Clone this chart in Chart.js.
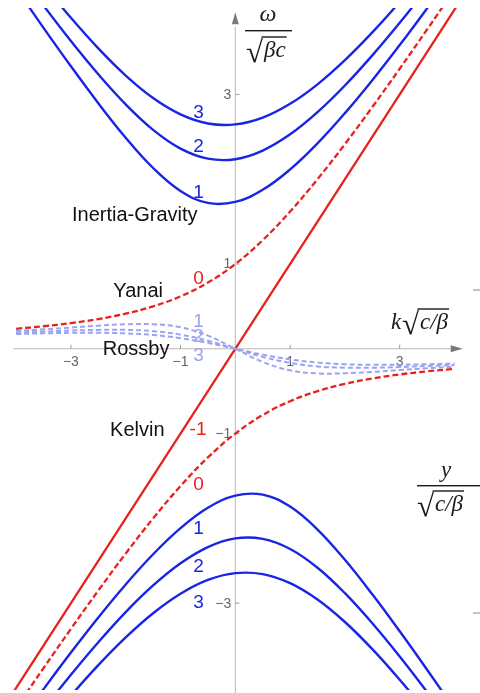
<!DOCTYPE html>
<html>
<head>
<meta charset="utf-8">
<script src="https://cdn.jsdelivr.net/npm/chart.js@4.4.1/dist/chart.umd.min.js"></script>
<style>
  html, body { margin: 0; padding: 0; background: #fff; }
  #waveChart { display: block; }
</style>
</head>
<body>
<canvas id="waveChart" width="480" height="693"></canvas>
<script>
// wavenumber k*sqrt(c/beta), shared by every branch
const kValues = [-4, -3.5, -3, -2.5, -2, -1.5, -1, -0.5, 0, 0.5, 1, 1.5, 2, 2.5, 3, 3.5, 4];

// inertia-gravity waves, positive frequency, n = 1..3
const gravityUp1 = [4.250, 3.785, 3.332, 2.896, 2.489, 2.132, 1.861, 1.720, 1.732, 1.875, 2.115, 2.423, 2.779, 3.168, 3.582, 4.015, 4.460];
const gravityUp2 = [4.484, 4.048, 3.629, 3.237, 2.882, 2.582, 2.361, 2.242, 2.236, 2.338, 2.529, 2.791, 3.105, 3.460, 3.844, 4.251, 4.675];
const gravityUp3 = [4.706, 4.294, 3.903, 3.542, 3.222, 2.957, 2.764, 2.657, 2.646, 2.726, 2.889, 3.119, 3.404, 3.731, 4.091, 4.476, 4.880];

// inertia-gravity waves, negative frequency, n = 1..3
const gravityDown1 = [-4.460, -4.015, -3.582, -3.168, -2.779, -2.423, -2.115, -1.875, -1.732, -1.720, -1.861, -2.132, -2.489, -2.896, -3.332, -3.785, -4.250];
const gravityDown2 = [-4.675, -4.251, -3.844, -3.460, -3.105, -2.791, -2.529, -2.338, -2.236, -2.242, -2.361, -2.582, -2.882, -3.237, -3.629, -4.048, -4.484];
const gravityDown3 = [-4.880, -4.476, -4.091, -3.731, -3.404, -3.119, -2.889, -2.726, -2.646, -2.657, -2.764, -2.957, -3.222, -3.542, -3.903, -4.294, -4.706];

// Rossby waves, n = 1..3
const rossby1 = [0.211, 0.230, 0.251, 0.272, 0.289, 0.290, 0.254, 0.155, 0, -0.155, -0.254, -0.290, -0.289, -0.272, -0.251, -0.230, -0.211];
const rossby2 = [0.191, 0.203, 0.215, 0.223, 0.223, 0.208, 0.167, 0.095, 0, -0.095, -0.167, -0.208, -0.223, -0.223, -0.215, -0.203, -0.191];
const rossby3 = [0.174, 0.182, 0.188, 0.189, 0.182, 0.163, 0.125, 0.069, 0, -0.069, -0.125, -0.163, -0.182, -0.189, -0.188, -0.182, -0.174];

// Yanai (mixed Rossby-gravity) wave, both roots
const yanaiUp = [0.236, 0.266, 0.303, 0.351, 0.414, 0.500, 0.618, 0.781, 1.000, 1.281, 1.618, 2.000, 2.414, 2.851, 3.303, 3.766, 4.236];
const yanaiDown = [-4.236, -3.766, -3.303, -2.851, -2.414, -2.000, -1.618, -1.281, -1.000, -0.781, -0.618, -0.500, -0.414, -0.351, -0.303, -0.266, -0.236];

// Kelvin wave: omega = k
const kelvinK = [-4.1, 4.1];
const kelvinOmega = [-4.1, 4.1];

const xTicks = [-3, -1, 1, 3];
const yTicks = [3, 1, -1, -3];

const BLUE = '#1a24e4';
const RED = '#e8211d';
const PALE = '#9ba3f1';
const INK = '#111';

function series(xs, ys) {
    return xs.map(function (x, i) { return { x: x, y: ys[i] }; });
}

function curve(ys, color, width, dash) {
    return {
        data: series(kValues, ys),
        borderColor: color,
        borderWidth: width,
        borderDash: dash || [],
        pointRadius: 0,
        tension: 0.4,
        fill: false
    };
}

// text placed in data coordinates
const waveLabels = [
    { text: '3', k: -0.67, w: 2.78, color: BLUE },
    { text: '2', k: -0.67, w: 2.38, color: BLUE },
    { text: '1', k: -0.67, w: 1.84, color: BLUE },
    { text: '0', k: -0.67, w: 0.82, color: RED },
    { text: '1', k: -0.67, w: 0.32, color: PALE },
    { text: '2', k: -0.67, w: 0.14, color: PALE },
    { text: '3', k: -0.67, w: -0.085, color: PALE },
    { text: '-1', k: -0.68, w: -0.96, color: RED },
    { text: '0', k: -0.67, w: -1.60, color: RED },
    { text: '1', k: -0.67, w: -2.125, color: BLUE },
    { text: '2', k: -0.67, w: -2.57, color: BLUE },
    { text: '3', k: -0.67, w: -3.0, color: BLUE }
];

const waveNames = [
    { text: 'Inertia-Gravity', k: -2.98, w: 1.507 },
    { text: 'Yanai', k: -2.226, w: 0.611 },
    { text: 'Rossby', k: -2.42, w: -0.077 },
    { text: 'Kelvin', k: -2.286, w: -1.028 }
];

// draws "√body" with the vinculum over the body
function drawRoot(ctx, x, baseline, body, size) {
    ctx.font = (size + 8) + 'px "Liberation Serif"';
    ctx.textAlign = 'left';
    ctx.textBaseline = 'alphabetic';
    ctx.fillText('\u221A', x, baseline + 5);
    const rootW = ctx.measureText('\u221A').width;
    ctx.font = 'italic ' + size + 'px "Liberation Serif"';
    const bodyW = ctx.measureText(body).width;
    ctx.fillText(body, x + rootW + 1, baseline);
    ctx.fillRect(x + rootW - 1.5, baseline - size * 0.9, bodyW + 3.5, 1.4);
}

const axesPlugin = {
    id: 'waveAxes',
    beforeDatasetsDraw: function (chart) {
        const ctx = chart.ctx;
        const xs = chart.scales.x;
        const ys = chart.scales.y;
        const x0 = xs.getPixelForValue(0);
        const y0 = ys.getPixelForValue(0);
        ctx.save();

        ctx.strokeStyle = '#b8b8b8';
        ctx.lineWidth = 1;
        ctx.beginPath();
        ctx.moveTo(xs.getPixelForValue(-4.05), y0);
        ctx.lineTo(xs.getPixelForValue(4.0), y0);
        ctx.moveTo(x0, chart.height);
        ctx.lineTo(x0, ys.getPixelForValue(3.8));
        ctx.stroke();

        // arrow heads
        ctx.fillStyle = '#7a7a7a';
        const tipX = xs.getPixelForValue(4.15);
        ctx.beginPath();
        ctx.moveTo(tipX, y0);
        ctx.lineTo(tipX - 12, y0 - 3.5);
        ctx.lineTo(tipX - 12, y0 + 3.5);
        ctx.closePath();
        ctx.fill();
        const tipY = ys.getPixelForValue(3.97);
        ctx.beginPath();
        ctx.moveTo(x0, tipY);
        ctx.lineTo(x0 - 3.5, tipY + 12);
        ctx.lineTo(x0 + 3.5, tipY + 12);
        ctx.closePath();
        ctx.fill();

        // ticks and tick labels
        ctx.strokeStyle = '#999';
        ctx.beginPath();
        xTicks.forEach(function (t) {
            const px = xs.getPixelForValue(t);
            ctx.moveTo(px, y0 - 4);
            ctx.lineTo(px, y0);
        });
        yTicks.forEach(function (t) {
            const py = ys.getPixelForValue(t);
            ctx.moveTo(x0, py);
            ctx.lineTo(x0 + 4, py);
        });
        ctx.stroke();

        ctx.fillStyle = '#666';
        ctx.font = '14px "Liberation Sans"';
        ctx.textBaseline = 'middle';
        ctx.textAlign = 'center';
        xTicks.forEach(function (t) {
            ctx.fillText(t < 0 ? '\u2212' + (-t) : String(t), xs.getPixelForValue(t), y0 + 13);
        });
        ctx.textAlign = 'right';
        yTicks.forEach(function (t) {
            ctx.fillText(t < 0 ? '\u2212' + (-t) : String(t), x0 - 4, ys.getPixelForValue(t) + 0.5);
        });

        // stray ticks of the neighbouring panel
        ctx.strokeStyle = '#888';
        ctx.beginPath();
        ctx.moveTo(473, 290);
        ctx.lineTo(480, 290);
        ctx.moveTo(473, 613);
        ctx.lineTo(480, 613);
        ctx.stroke();
        ctx.restore();
    },
    afterDatasetsDraw: function (chart) {
        const ctx = chart.ctx;
        const xs = chart.scales.x;
        const ys = chart.scales.y;
        ctx.save();

        ctx.font = '19px "Liberation Sans"';
        ctx.textAlign = 'center';
        ctx.textBaseline = 'middle';
        waveLabels.forEach(function (l) {
            ctx.fillStyle = l.color;
            ctx.fillText(l.text, xs.getPixelForValue(l.k), ys.getPixelForValue(l.w));
        });

        ctx.font = '20px "Liberation Sans"';
        ctx.fillStyle = INK;
        ctx.textAlign = 'left';
        ctx.textBaseline = 'alphabetic';
        waveNames.forEach(function (l) {
            ctx.fillText(l.text, xs.getPixelForValue(l.k), ys.getPixelForValue(l.w));
        });

        // axis titles
        ctx.fillStyle = '#1a1a1a';
        ctx.font = 'italic 24px "Liberation Serif"';
        ctx.textAlign = 'center';
        ctx.fillText('\u03C9', 268, 21);
        ctx.fillRect(245, 30, 47, 1.4);
        drawRoot(ctx, 246, 57, '\u03B2c', 23);

        ctx.font = 'italic 23px "Liberation Serif"';
        ctx.textAlign = 'left';
        ctx.fillText('k', 391, 329);
        drawRoot(ctx, 402, 329, 'c/\u03B2', 23);

        ctx.font = 'italic 23px "Liberation Serif"';
        ctx.textAlign = 'center';
        ctx.fillText('y', 446, 477);
        ctx.fillRect(417, 485, 63, 1.4);
        drawRoot(ctx, 417, 511, 'c/\u03B2', 23);
        ctx.restore();
    }
};

document.addEventListener('DOMContentLoaded', function () {
    const ctx = document.getElementById('waveChart').getContext('2d');
    new Chart(ctx, {
        type: 'line',
        data: {
            datasets: [
                curve(rossby3, PALE, 2, [5, 3]),
                curve(rossby2, PALE, 2, [5, 3]),
                curve(rossby1, PALE, 2, [5, 3]),
                curve(gravityUp1, BLUE, 2.4),
                curve(gravityUp2, BLUE, 2.4),
                curve(gravityUp3, BLUE, 2.4),
                curve(gravityDown1, BLUE, 2.4),
                curve(gravityDown2, BLUE, 2.4),
                curve(gravityDown3, BLUE, 2.4),
                curve(yanaiUp, RED, 2.3, [6, 3]),
                curve(yanaiDown, RED, 2.3, [6, 3]),
                {
                    data: series(kelvinK, kelvinOmega),
                    borderColor: RED,
                    borderWidth: 2.3,
                    pointRadius: 0,
                    fill: false
                }
            ]
        },
        options: {
            responsive: false,
            animation: false,
            devicePixelRatio: 1,
            events: [],
            layout: { padding: { top: 8, bottom: 3, left: 0, right: 0 } },
            scales: {
                x: { type: 'linear', min: -4.294, max: 4.465, display: false },
                y: { type: 'linear', min: -4.024, max: 4.019, display: false }
            },
            plugins: {
                legend: { display: false },
                tooltip: { enabled: false }
            }
        },
        plugins: [axesPlugin]
    });
});
</script>
</body>
</html>
